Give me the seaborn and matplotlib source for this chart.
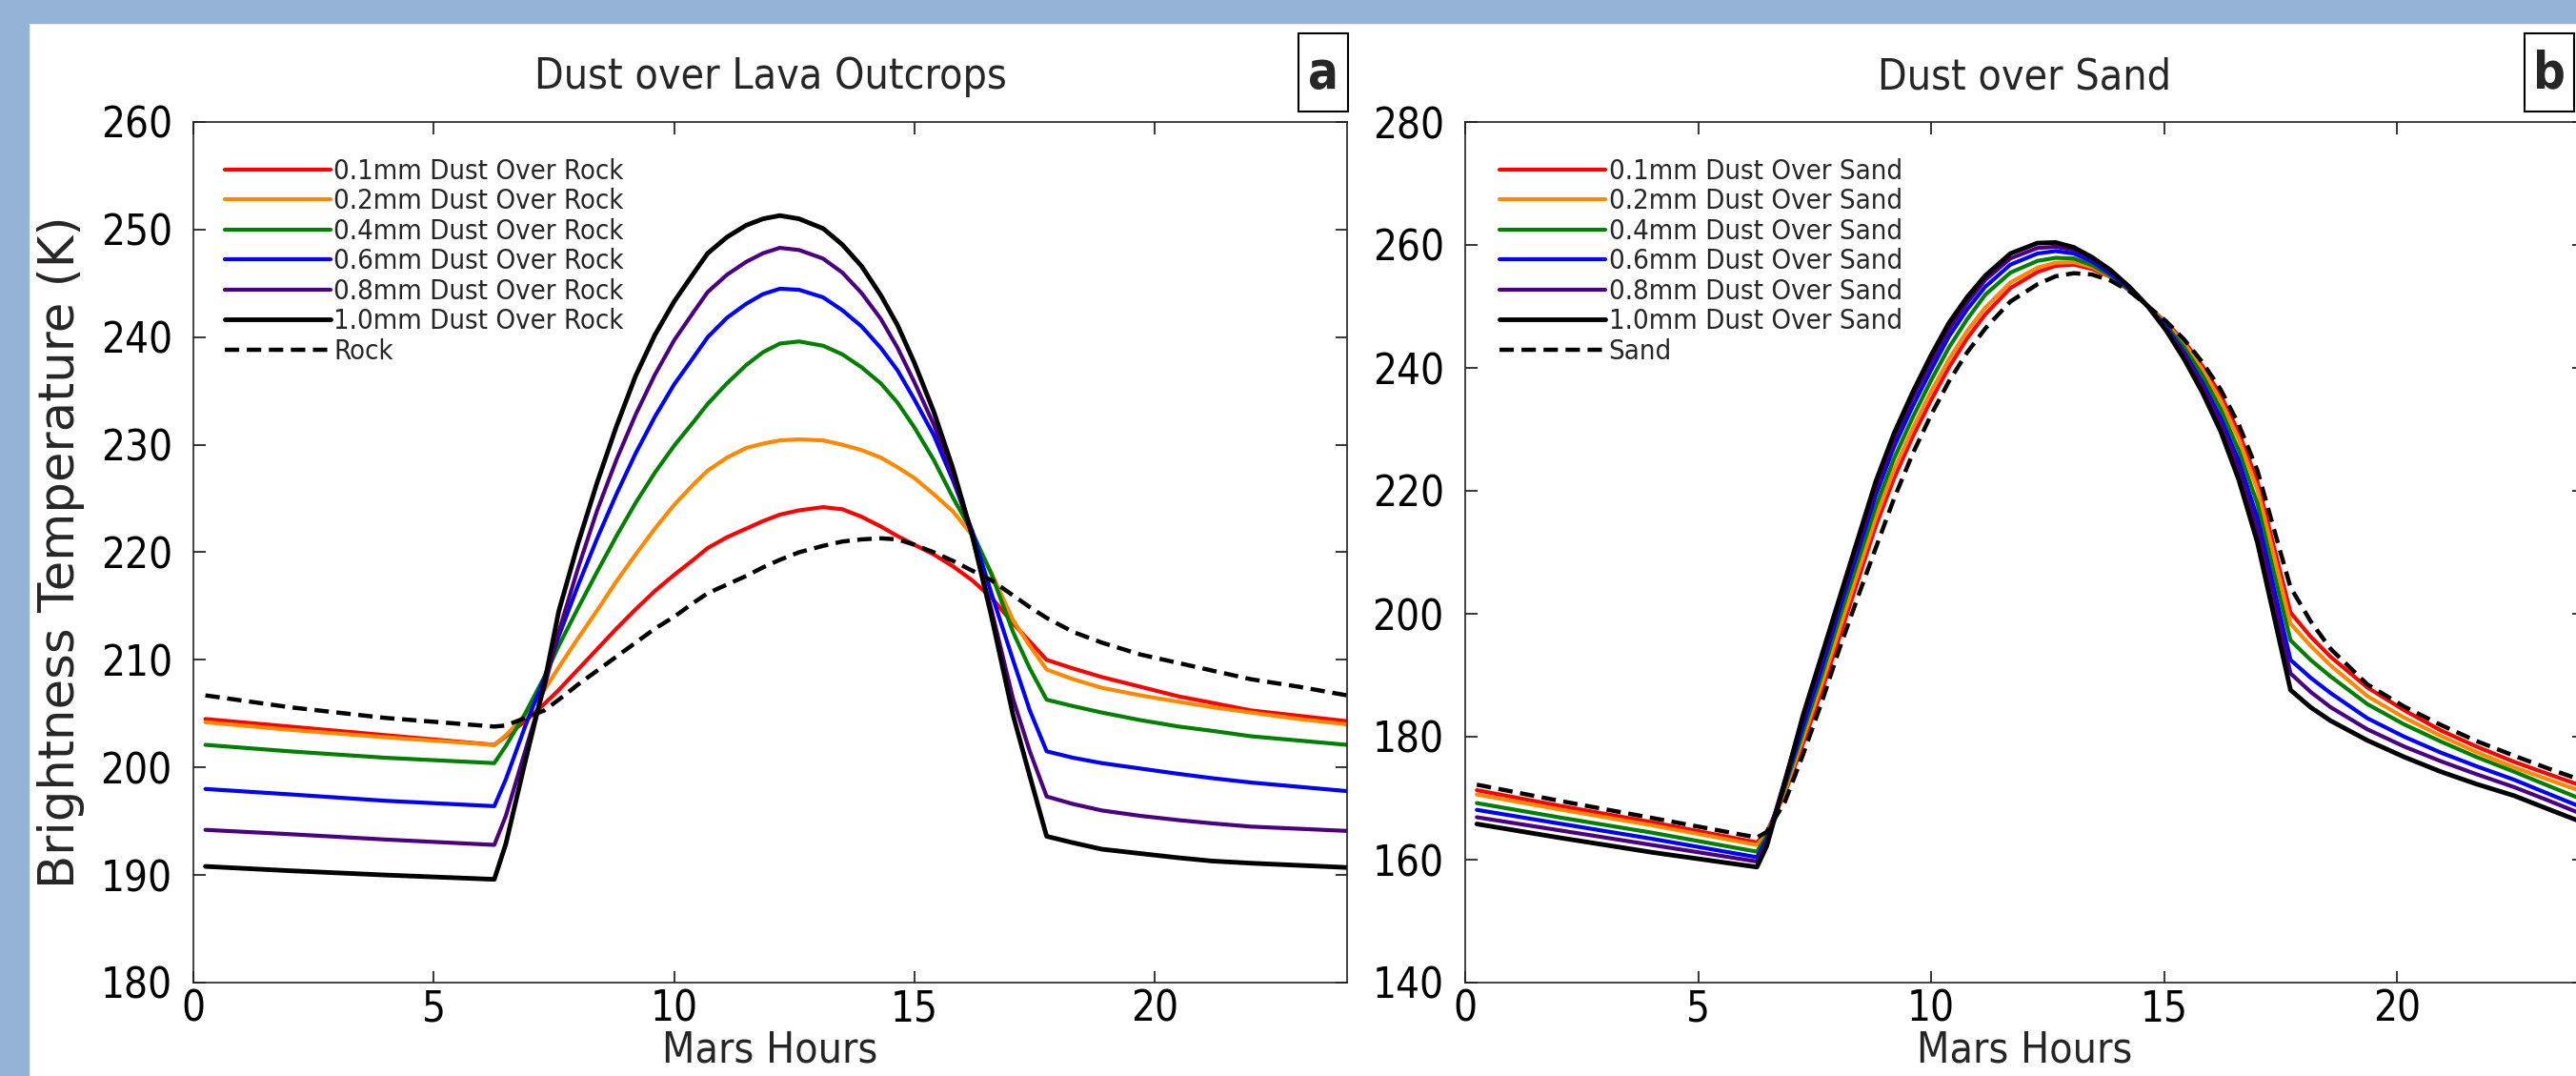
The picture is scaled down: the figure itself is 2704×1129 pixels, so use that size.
import matplotlib
matplotlib.use('Agg')
import matplotlib.pyplot as plt
from matplotlib.patches import Rectangle
import seaborn as sns


# hours of the simulated Mars day
hours_rock = [0.25, 2, 4, 6.26, 6.5, 6.9, 7.3, 7.6, 8.0, 8.4, 8.8, 9.2, 9.6, 10.0, 10.4, 10.7, 11.1,
              11.5, 11.85, 12.2, 12.6, 13.1, 13.5, 13.9, 14.3, 14.65, 15.0, 15.4, 15.8, 16.2, 16.6,
              17.05, 17.4, 17.75, 18.3, 18.9, 19.7, 20.5, 21.2, 22.0, 23.0, 24.0]
hours_sand = [0.25, 2, 4, 6.26, 6.47, 6.86, 7.25, 7.65, 8.03, 8.42, 8.81, 9.2, 9.6, 10.0, 10.38,
              10.77, 11.16, 11.7, 12.28, 12.67, 13.06, 13.45, 13.85, 14.25, 14.64, 15.04, 15.43,
              15.82, 16.21, 16.6, 17.0, 17.35, 17.71, 18.14, 18.57, 19.36, 20.15, 20.94, 21.7,
              22.51, 23.25, 24.0]

# panel a, dust over lava outcrops (K)
rock_01 = [204.5, 203.8, 203.0, 202.1, 202.9, 204.3, 205.9, 207.2, 209.1, 211.0, 212.9, 214.7, 216.4,
           217.9, 219.3, 220.4, 221.4, 222.2, 222.9, 223.5, 223.9, 224.2, 224.0, 223.3, 222.4, 221.5,
           220.7, 219.8, 218.7, 217.4, 215.8, 213.4, 211.7, 210.0, 209.2, 208.4, 207.5, 206.6, 206.0,
           205.3, 204.8, 204.3]
rock_02 = [204.2, 203.5, 202.8, 202.1, 203.0, 204.8, 207.2, 209.3, 212.0, 214.6, 217.3, 219.8, 222.2,
           224.4, 226.3, 227.6, 228.8, 229.7, 230.1, 230.4, 230.5, 230.4, 230.0, 229.5, 228.8, 227.9,
           226.9, 225.4, 223.8, 221.6, 218.1, 213.7, 211.3, 209.1, 208.2, 207.4, 206.7, 206.1, 205.6,
           205.1, 204.5, 204.0]
rock_04 = [202.1, 201.5, 200.9, 200.4, 202.0, 205.0, 208.4, 211.3, 214.8, 218.2, 221.5, 224.6, 227.4,
           229.9, 232.1, 233.8, 235.7, 237.4, 238.6, 239.4, 239.6, 239.2, 238.4, 237.2, 235.7, 233.9,
           231.6, 228.6, 225.1, 221.9, 218.0, 212.6, 209.2, 206.3, 205.7, 205.1, 204.4, 203.8, 203.4,
           202.9, 202.5, 202.1]
rock_06 = [198.0, 197.5, 196.9, 196.4, 198.9, 203.8, 208.3, 212.2, 216.9, 221.3, 225.4, 229.2, 232.6,
           235.6, 238.1, 240.0, 241.8, 243.1, 244.0, 244.5, 244.4, 243.7, 242.5, 241.0, 239.0, 236.9,
           234.2, 230.9, 226.7, 222.0, 216.2, 210.0, 205.3, 201.5, 200.9, 200.4, 199.9, 199.4, 199.0,
           198.6, 198.2, 197.8]
rock_08 = [194.2, 193.8, 193.3, 192.8, 195.5, 201.5, 207.4, 212.6, 218.5, 223.9, 228.6, 232.8, 236.5,
           239.7, 242.3, 244.2, 245.8, 247.0, 247.8, 248.3, 248.1, 247.3, 246.0, 244.1, 241.7, 239.0,
           235.8, 231.9, 227.1, 221.5, 214.7, 206.4, 201.5, 197.3, 196.6, 196.0, 195.5, 195.1, 194.8,
           194.5, 194.3, 194.1]
rock_10 = [190.8, 190.4, 190.0, 189.6, 192.9, 200.5, 207.8, 214.5, 220.8, 226.5, 231.7, 236.4, 240.2,
           243.3, 245.9, 247.8, 249.3, 250.4, 251.0, 251.3, 251.0, 250.1, 248.6, 246.6, 243.9, 241.1,
           237.6, 233.1, 227.8, 221.6, 214.1, 204.9, 199.2, 193.6, 193.0, 192.4, 192.0, 191.6, 191.3,
           191.1, 190.9, 190.7]
rock_bare = [206.7, 205.6, 204.6, 203.8, 203.9, 204.6, 205.3, 206.3, 207.7, 209.0, 210.3, 211.6, 212.9,
             214.0, 215.3, 216.2, 217.0, 217.8, 218.6, 219.3, 220.0, 220.6, 221.0, 221.2, 221.3, 221.2,
             220.7, 220.0, 219.2, 218.3, 217.4, 216.0, 214.9, 213.9, 212.6, 211.6, 210.5, 209.7, 209.0,
             208.2, 207.5, 206.7]

# panel b, dust over sand (K)
sand_01 = [171.3, 168.8, 166.1, 162.8, 164.5, 170.8, 178.9, 187.5, 196.2, 205.3, 214.3, 222.0, 228.8,
           234.8, 240.1, 244.8, 248.7, 253.0, 255.6, 256.6, 256.8, 256.1, 254.8, 252.6, 250.1, 247.4,
           244.3, 240.3, 235.6, 229.5, 221.5, 211.0, 200.2, 196.3, 193.0, 188.0, 184.3, 181.0, 178.4,
           175.9, 173.9, 171.9]
sand_02 = [170.6, 168.2, 165.6, 162.4, 164.2, 171.2, 179.8, 188.6, 197.5, 206.6, 215.6, 223.4, 230.1,
           236.2, 241.4, 246.0, 249.8, 253.9, 256.3, 257.1, 257.2, 256.4, 254.9, 252.7, 250.1, 247.2,
           243.9, 239.7, 234.7, 228.4, 220.2, 209.6, 198.4, 194.8, 191.6, 186.6, 183.1, 180.1, 177.5,
           175.0, 173.0, 171.0]
sand_04 = [169.2, 166.9, 164.4, 161.3, 163.8, 171.8, 180.8, 190.0, 199.3, 208.4, 217.4, 225.2, 231.9,
           238.0, 243.3, 247.9, 251.9, 255.5, 257.4, 257.9, 257.8, 256.7, 255.0, 252.7, 250.1, 246.9,
           243.3, 238.8, 233.3, 226.6, 217.9, 206.9, 195.7, 192.5, 189.8, 185.3, 182.0, 179.2, 176.7,
           174.3, 172.0, 169.7]
sand_06 = [168.1, 165.9, 163.4, 160.4, 163.3, 172.3, 181.8, 191.2, 200.7, 210.0, 219.3, 227.1, 233.7,
           239.7, 245.1, 249.5, 253.2, 256.8, 258.6, 259.0, 258.6, 257.3, 255.3, 252.9, 250.1, 246.6,
           242.5, 237.6, 231.9, 224.9, 215.6, 204.3, 192.5, 189.6, 187.1, 183.0, 180.0, 177.4, 175.2,
           173.0, 170.7, 168.4]
sand_08 = [166.9, 164.8, 162.4, 159.7, 163.0, 173.0, 183.0, 192.4, 201.8, 211.1, 220.4, 228.3, 235.1,
           241.0, 246.2, 250.6, 254.3, 257.8, 259.5, 259.7, 259.2, 257.8, 255.7, 253.1, 250.1, 246.4,
           242.2, 237.1, 231.0, 223.5, 213.8, 202.2, 190.3, 187.3, 184.8, 181.2, 178.4, 176.0, 173.9,
           171.8, 169.6, 167.3]
sand_10 = [165.8, 163.6, 161.2, 158.8, 162.2, 172.6, 183.5, 193.2, 202.5, 212.0, 221.5, 229.3, 236.0,
           242.1, 247.3, 251.5, 255.0, 258.6, 260.3, 260.4, 259.6, 258.0, 255.9, 253.2, 250.1, 246.1,
           241.4, 236.0, 229.7, 221.8, 211.6, 199.8, 187.6, 184.8, 182.6, 179.4, 176.7, 174.3, 172.3,
           170.4, 168.2, 166.0]
sand_bare = [172.2, 169.6, 166.8, 163.6, 164.5, 169.4, 177.1, 185.6, 194.3, 202.6, 210.7, 218.7, 226.0,
             232.4, 237.8, 242.5, 246.4, 250.8, 253.6, 254.9, 255.4, 255.2, 254.2, 252.5, 250.1, 247.6,
             244.6, 240.9, 236.5, 230.8, 223.3, 213.9, 204.3, 198.8, 194.3, 188.5, 184.9, 181.9, 179.3,
             176.9, 174.8, 172.8]

depths = ['0.1mm', '0.2mm', '0.4mm', '0.6mm', '0.8mm', '1.0mm']
colors = ['#ff0000', '#ff8800', '#008000', '#0000ff', '#4b0082', '#000000']
widths = [3.0, 3.0, 3.0, 3.0, 3.0, 3.5]

W, H = 2704, 1129
sns.set_style('ticks')
plt.rcParams['font.family'] = ['DejaVu Sans']
plt.rcParams['font.stretch'] = 'condensed'

fig = plt.figure(figsize=(W / 100, H / 100), dpi=100)
fig.patch.set_facecolor('white')


def px_box(x0, x1, y0, y1):
    return [x0 / W, 1 - y1 / H, (x1 - x0) / W, (y1 - y0) / H]


# light blue poster background strips
fig.patches.append(Rectangle((0, 1 - 24 / H), 1, 24 / H, transform=fig.transFigure,
                             color='#95b3d7', zorder=0))
fig.patches.append(Rectangle((0, 0), 30 / W, 1, transform=fig.transFigure,
                             color='#95b3d7', zorder=0))

ax_a = fig.add_axes(px_box(203, 1414, 128, 1031))
ax_b = fig.add_axes(px_box(1538, 2712, 128, 1031))

panels = [
    (ax_a, hours_rock, [rock_01, rock_02, rock_04, rock_06, rock_08, rock_10], rock_bare,
     'Rock', 'Dust over Lava Outcrops', (180, 260), range(180, 261, 10), 0.027),
    (ax_b, hours_sand, [sand_01, sand_02, sand_04, sand_06, sand_08, sand_10], sand_bare,
     'Sand', 'Dust over Sand', (140, 280), range(140, 281, 20), 0.031),
]

for ax, hrs, series, bare, surf, title, ylim, yticks, leg_x in panels:
    for d, vals, c, lw in zip(depths, series, colors, widths):
        sns.lineplot(x=hrs, y=vals, color=c, linewidth=lw, ax=ax,
                     label='{} Dust Over {}'.format(d, surf))
    sns.lineplot(x=hrs, y=bare, color='black', linewidth=3.2, ax=ax,
                 linestyle=(0, (3.4, 1.8)), label=surf)
    ax.set_xlim(0, 24)
    ax.set_ylim(*ylim)
    ax.set_xticks([0, 5, 10, 15, 20])
    ax.set_yticks(list(yticks))
    ax.tick_params(direction='in', top=True, right=True, length=9, width=1.1,
                   labelsize=31.5, colors='black')
    ax.tick_params(axis='y', pad=16)
    ax.tick_params(axis='x', pad=5)
    for s in ax.spines.values():
        s.set_linewidth(1.2)
        s.set_color('#222222')
    ax.set_title(title, fontsize=32, pad=25)
    ax.set_xlabel('Mars Hours', fontsize=32, labelpad=0)
    ax.set_ylabel('')
    ax.legend(loc='upper left', bbox_to_anchor=(leg_x, 0.958), frameon=False,
              prop={'size': 21, 'stretch': 'condensed'}, handlelength=3.8,
              handletextpad=0.12, labelspacing=0.12, borderpad=0, borderaxespad=0)

ax_a.set_ylabel('Brightness Temperature (K)', fontsize=37, labelpad=12,
                fontstretch='normal')

# boxed panel letters
for letter, x0 in [('a', 1363), ('b', 2650)]:
    fig.patches.append(Rectangle((x0 / W, 1 - 117 / H), 52 / W, 82 / H,
                                 transform=fig.transFigure, fill=False,
                                 edgecolor='black', linewidth=1.5))
    fig.text((x0 + 26) / W, 1 - 77 / H, letter, ha='center', va='center',
             fontsize=38, fontweight='bold')

fig.savefig('out.png', dpi=100)
